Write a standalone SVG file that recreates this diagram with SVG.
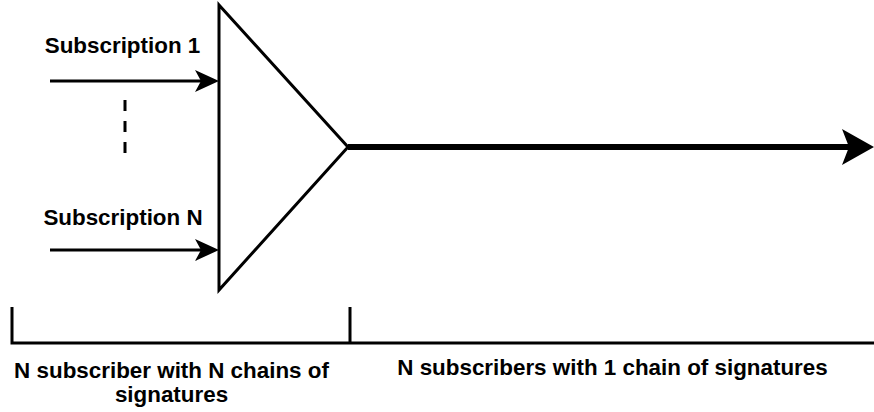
<svg xmlns="http://www.w3.org/2000/svg" width="874" height="412" viewBox="0 0 874 412">
<style>
.t{font-family:"Liberation Sans",Arial,sans-serif;font-weight:bold;font-size:22.4px;fill:#000}
.ln{stroke:#000;fill:none}
</style>
<rect width="874" height="412" fill="#fff"/>
<g id="mux">
<path class="ln" d="M219,5 L348,147 L219,290 Z" stroke-width="3" stroke-linejoin="miter"/>
</g>
<g id="label-sub1"><text class="t" x="122.5" y="53" text-anchor="middle">Subscription 1</text></g>
<g id="label-subN"><text class="t" x="123" y="225" text-anchor="middle">Subscription N</text></g>
<g id="connectors">
<line class="ln" x1="50" y1="81" x2="205" y2="81" stroke-width="3"/>
<path d="M219,81 L195,70 L201,81 L195,92 Z" fill="#000"/>
<line class="ln" x1="50" y1="250" x2="205" y2="250" stroke-width="3"/>
<path d="M219,250 L195,239 L201,250 L195,261 Z" fill="#000"/>
<line class="ln" x1="125" y1="100" x2="125" y2="156" stroke-width="3" stroke-dasharray="11,10"/>
<line class="ln" x1="348" y1="147" x2="852" y2="147" stroke-width="6"/>
<path d="M874,147 L842,129 L849,147 L842,165 Z" fill="#000"/>
</g>
<g id="bracket">
<path class="ln" d="M12,307 V343 H874 M350,307 V343" stroke-width="3"/>
</g>
<g id="label-left">
<text class="t" x="171.5" y="378" text-anchor="middle">N subscriber with N chains of</text>
<text class="t" x="171.5" y="402" text-anchor="middle">signatures</text>
</g>
<g id="label-right">
<text class="t" x="612.5" y="375" text-anchor="middle">N subscribers with 1 chain of signatures</text>
</g>
</svg>
